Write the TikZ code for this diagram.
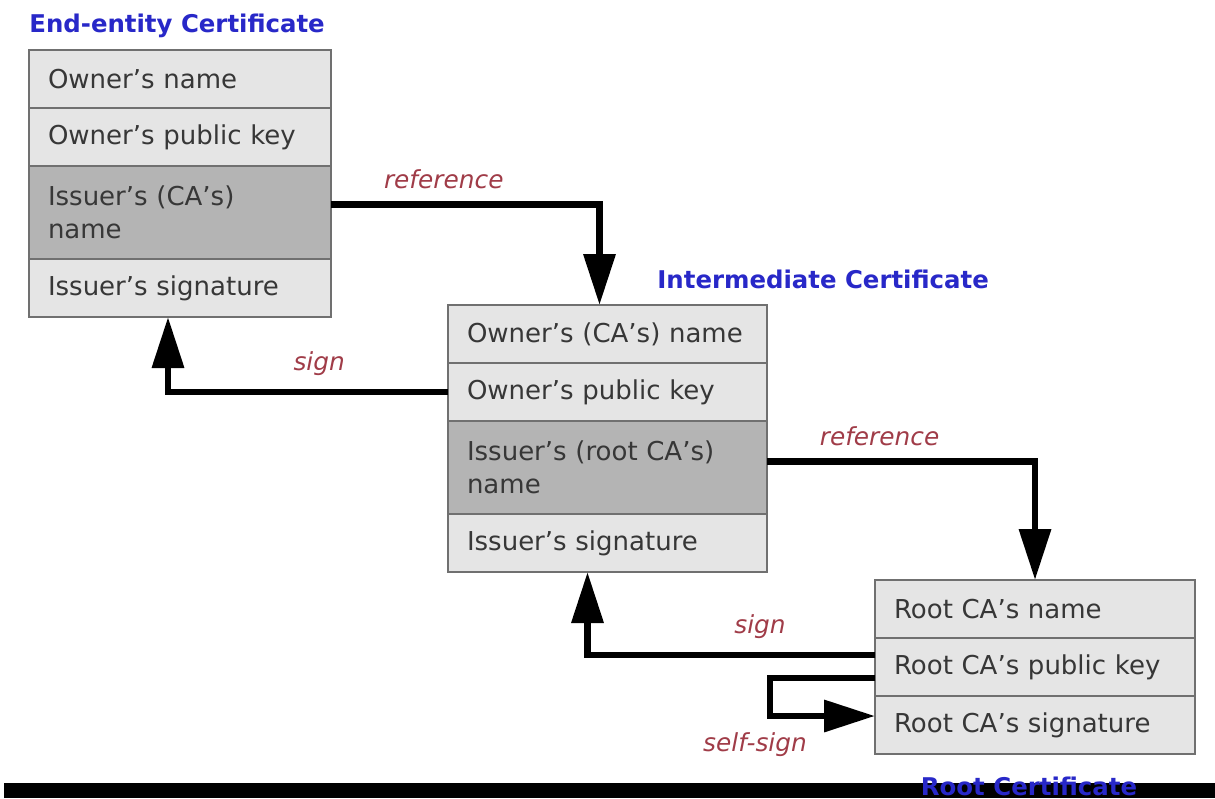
\documentclass[tikz,border=0pt]{standalone}
\usepackage{fontspec}
\setmainfont{DejaVu Sans}
\usetikzlibrary{positioning,arrows.meta}

\definecolor{rowgray}{RGB}{229,229,229}
\definecolor{keygray}{RGB}{180,180,180}
\definecolor{boxline}{RGB}{112,112,112}
\definecolor{fieldtext}{RGB}{55,55,55}
\definecolor{certblue}{RGB}{40,40,200}
\definecolor{tagred}{RGB}{160,60,72}

\tikzset{
  field/.style={draw=boxline, fill=rowgray, line width=1.2pt, outer sep=0pt,
    text width=#1, inner xsep=9.5pt, minimum height=29pt, align=left,
    text=fieldtext, font=\fontsize{13}{16.5}\selectfont},
  keyfield/.style={field=#1, fill=keygray, minimum height=46.5pt},
  certtitle/.style={inner sep=0pt, text=certblue, font=\fontsize{12.2}{14}\selectfont\bfseries},
  tag/.style={text=tagred, font=\fontsize{12.4}{14}\selectfont\itshape},
  link/.style={line width=3.3pt, -{Triangle[length=25.5pt,width=15.5pt]}}
}

\begin{document}
\begin{tikzpicture}[x=0.5pt,y=-0.5pt]
  \useasboundingbox (0,0) rectangle (1215,798);

  % end-entity certificate
  \node[field=132pt, anchor=north west] (ee1) at (29,50) {Owner's name};
  \node[field=132pt, below=0pt of ee1] (ee2) {Owner's public key};
  \node[keyfield=132pt, below=0pt of ee2] (ee3) {Issuer's (CA's)\\name};
  \node[field=132pt, below=0pt of ee3] (ee4) {Issuer's signature};
  \node[certtitle, anchor=base west] (eetitle) at ([yshift=9pt]ee1.north west) {End-entity Certificate};

  % intermediate certificate
  \node[field=140.5pt, anchor=north west] (im1) at (448,305) {Owner's (CA's) name};
  \node[field=140.5pt, below=0pt of im1] (im2) {Owner's public key};
  \node[keyfield=140.5pt, below=0pt of im2] (im3) {Issuer's (root CA's)\\name};
  \node[field=140.5pt, below=0pt of im3] (im4) {Issuer's signature};
  \node[certtitle, anchor=base west] (imtitle) at ([shift={(104.5pt,8.5pt)}]im1.north west) {Intermediate Certificate};

  % root certificate
  \node[field=141pt, anchor=north west] (rt1) at (875,580) {Root CA's name};
  \node[field=141pt, below=0pt of rt1] (rt2) {Root CA's public key};
  \node[field=141pt, below=0pt of rt2] (rt3) {Root CA's signature};

  % bottom bar
  \fill[black] (4,783) rectangle (1215,798);
  \node[certtitle, anchor=base] (rttitle) at ([shift={(-3pt,-20.5pt)}]rt3.south) {Root Certificate};

  % connectors
  \draw[link] ([yshift=4pt]ee3.east) -| ([xshift=-4pt]im1.north)
    node[tag, pos=0.21, above=3pt] (ref1) {reference};
  \draw[link] (im2.west) -| ([xshift=-6pt]ee4.south)
    node[tag, pos=0.23, above=3pt] (sign1) {sign};
  \draw[link] ([yshift=3pt]im3.east) -| (rt1.north)
    node[tag, pos=0.21, above=3pt] (ref2) {reference};
  \draw[link] ([yshift=6pt]rt2.west) -| ([xshift=-10pt]im4.south)
    node[tag, pos=0.2, above=3pt] (sign2) {sign};
  \draw[link] ([yshift=-5.5pt]rt2.west) -- ++(-52.5pt,0) coordinate (turn)
    |- ([yshift=4.5pt]rt3.west);
  \node[tag] (selftag) at ([shift={(-7.5pt,-33.5pt)}]turn) {self-sign};
\end{tikzpicture}
\end{document}
